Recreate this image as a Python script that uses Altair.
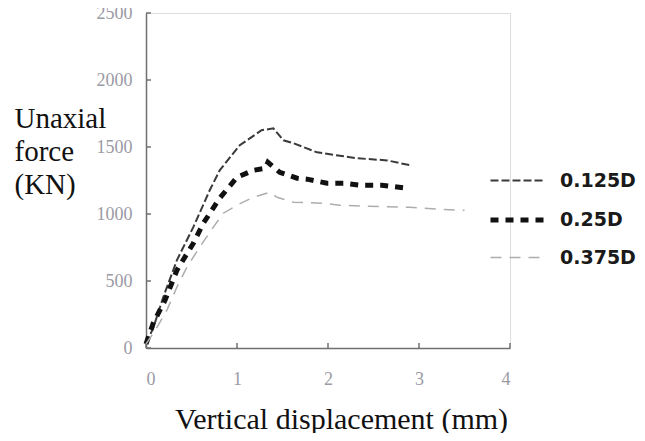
import altair as alt
import pandas as pd

series_names = ["0.125D", "0.25D", "0.375D"]

x_0125 = [0, 0.08, 0.19, 0.34, 0.52, 0.70, 0.81, 1.03, 1.27, 1.40, 1.51, 1.62, 1.88, 2.32, 2.65, 2.90]
y_0125 = [30, 150, 380, 656, 902, 1177, 1326, 1513, 1625, 1639, 1550, 1528, 1460, 1416, 1400, 1364]

x_025 = [0, 0.08, 0.21, 0.34, 0.52, 0.63, 0.81, 1.00, 1.18, 1.31, 1.34, 1.47, 1.66, 1.77, 1.99, 2.17, 2.35, 2.59, 2.87]
y_025 = [30, 186, 358, 581, 782, 931, 1118, 1274, 1326, 1341, 1386, 1311, 1267, 1260, 1230, 1230, 1215, 1215, 1192]

x_0375 = [0, 0.10, 0.23, 0.34, 0.45, 0.59, 0.74, 0.85, 1.00, 1.18, 1.36, 1.44, 1.62, 1.95, 2.13, 2.43, 2.90, 3.42, 3.50]
y_0375 = [30, 130, 283, 455, 604, 753, 902, 1006, 1066, 1125, 1162, 1125, 1088, 1080, 1066, 1058, 1050, 1028, 1028]

x_ticks = [0, 1, 2, 3, 4]
y_ticks = [0, 500, 1000, 1500, 2000, 2500]

rows = []
for name, xs, ys in [("0.125D", x_0125, y_0125), ("0.25D", x_025, y_025), ("0.375D", x_0375, y_0375)]:
    for i, (a, b) in enumerate(zip(xs, ys)):
        rows.append({"series": name, "x": a, "y": b, "i": i})
df = pd.DataFrame(rows)

W, H = 364, 335
AXIS_COLOR = "#707070"
LABEL_COLOR = "#9a9aa4"

xscale = alt.Scale(domain=[0, 4], nice=False, zero=False)
yscale = alt.Scale(domain=[0, 2500], nice=False)

lines = alt.Chart(df).mark_line(strokeCap="butt").encode(
    x=alt.X("x:Q", scale=xscale, axis=alt.Axis(
        values=x_ticks, format="d", ticks=False, grid=False,
        domainColor=AXIS_COLOR, domainWidth=1.5,
        labelFont="Liberation Serif", labelFontSize=18, labelColor=LABEL_COLOR,
        labelPadding=22,
        title="Vertical displacement (mm)", titleFont="Liberation Serif",
        titleFontSize=30, titleFontWeight="normal", titleColor="#111111",
        titleBaseline="alphabetic", titleAnchor="middle", titleX=195, titleY=80)),
    y=alt.Y("y:Q", scale=yscale, axis=alt.Axis(
        values=y_ticks, format="d", ticks=False, grid=False,
        domainColor=AXIS_COLOR, domainWidth=1.5,
        labelFont="Liberation Serif", labelFontSize=18, labelColor=LABEL_COLOR,
        labelPadding=14,
        title=["Unaxial", "force", "(KN)"], titleFont="Liberation Serif",
        titleFontSize=29, titleFontWeight="normal", titleColor="#111111",
        titleAngle=0, titleAlign="left", titleBaseline="alphabetic",
        titleLineHeight=33, titleX=-132, titleY=114)),
    color=alt.Color("series:N", scale=alt.Scale(domain=series_names, range=["#3a3a3a", "#111111", "#adadad"]),
                    legend=alt.Legend(title=None, orient="none", legendX=342, legendY=140,
                                      symbolType="stroke", symbolSize=2809,
                                      labelFont="DejaVu Sans", labelFontSize=19, labelFontWeight="bold",
                                      labelColor="#1a1a1a", labelOffset=14, rowPadding=0, padding=0)),
    strokeDash=alt.StrokeDash("series:N", scale=alt.Scale(domain=series_names, range=[[8, 3], [8, 7], [11, 8]]),
                              legend=alt.Legend(title=None)),
    strokeWidth=alt.StrokeWidth("series:N", scale=alt.Scale(type="ordinal", domain=series_names, range=[2, 5, 1.5]),
                                legend=alt.Legend(title=None)),
    order="i:Q",
)

xt = alt.Chart(pd.DataFrame({"t": x_ticks})).mark_rule(color=AXIS_COLOR, strokeWidth=1.5).encode(
    x=alt.X("t:Q", scale=xscale), y=alt.value(H), y2=alt.value(H - 5))
yt = alt.Chart(pd.DataFrame({"t": y_ticks})).mark_rule(color=AXIS_COLOR, strokeWidth=1.5).encode(
    y=alt.Y("t:Q", scale=yscale), x=alt.value(0), x2=alt.value(5))

chart = alt.layer(xt, yt, lines).properties(
    width=W, height=H,
    autosize=alt.AutoSizeParams(type="none"),
    padding={"left": 138, "top": 5, "right": 127, "bottom": 85},
).configure_view(stroke=None).configure(background="white")

chart.save("out.html", embed_options={"renderer": "svg", "actions": False})
